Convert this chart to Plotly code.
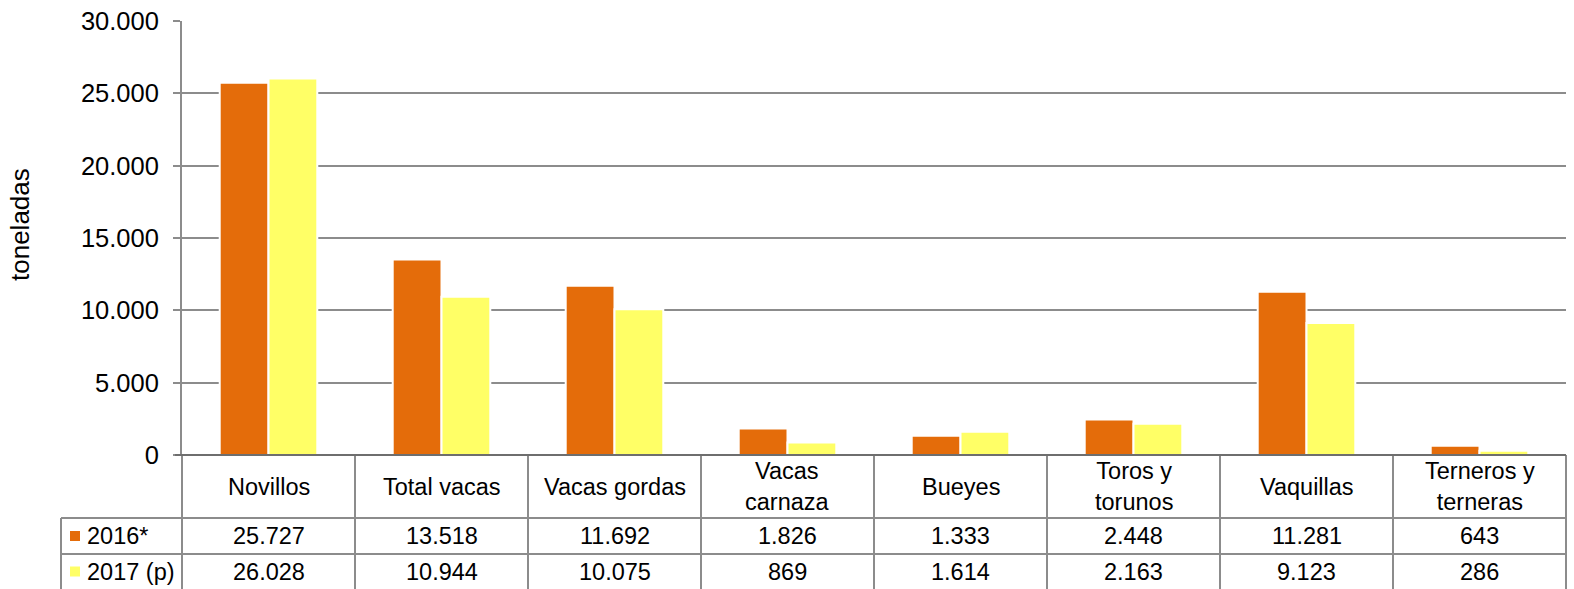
import plotly.graph_objects as go

# Datos
categorias = ["Novillos", "Total vacas", "Vacas gordas", "Vacas<br>carnaza", "Bueyes",
              "Toros y<br>torunos", "Vaquillas", "Terneros y<br>terneras"]
serie_2016 = [25727, 13518, 11692, 1826, 1333, 2448, 11281, 643]
serie_2017 = [26028, 10944, 10075, 869, 1614, 2163, 9123, 286]
nombres = ["2016*", "2017 (p)"]
colores = ["#E46C0A", "#FFFF66"]

W, H = 1574, 589
L, R, T, B = 182, 8, 21, 134
pw, ph = W - L - R, H - T - B


def px_x(px):
    return (px - L) / pw


def px_y(py):
    return (H - B - py) / ph


fuente = "Arial, Liberation Sans, sans-serif"
gris = "#8c8c8c"
n = len(categorias)

fig = go.Figure()
for nombre, valores, color in zip(nombres, [serie_2016, serie_2017], colores):
    fig.add_trace(go.Bar(
        x=list(range(n)), y=valores, name=nombre,
        marker=dict(color=color, line=dict(color="white", width=2)),
    ))

# Tabla de datos bajo el eje
shapes = []
y_hdr = px_y(518)
y_r1 = px_y(554)
y_bot = px_y(589)
for i in range(n + 1):
    xp = i / n
    shapes.append(dict(type="line", xref="paper", yref="paper", x0=xp, x1=xp,
                       y0=0, y1=y_bot, line=dict(color=gris, width=2)))
x_leg = px_x(61)
shapes.append(dict(type="line", xref="paper", yref="paper", x0=x_leg, x1=x_leg,
                   y0=y_hdr, y1=y_bot, line=dict(color=gris, width=2)))
for yy in (y_hdr, y_r1):
    shapes.append(dict(type="line", xref="paper", yref="paper", x0=x_leg, x1=1,
                       y0=yy, y1=yy, line=dict(color=gris, width=2)))
# eje x
shapes.append(dict(type="line", xref="paper", yref="paper", x0=px_x(175), x1=1,
                   y0=0, y1=0, line=dict(color="#6e6e6e", width=2)))

annotations = []
row_y = [px_y(536), px_y(571.5)]
for i, cat in enumerate(categorias):
    annotations.append(dict(x=i, xref="x", y=px_y(486.5), yref="paper", text=cat,
                            showarrow=False, font=dict(size=23.5, color="black", family=fuente),
                            xanchor="center", yanchor="middle"))
    for r, valores in enumerate([serie_2016, serie_2017]):
        annotations.append(dict(x=i, xref="x", y=row_y[r], yref="paper",
                                text=f"{valores[i]:,}".replace(",", "."),
                                showarrow=False, font=dict(size=23.5, color="black", family=fuente),
                                xanchor="center", yanchor="middle"))

for r, (nombre, color) in enumerate(zip(nombres, colores)):
    cy = [536, 571.5][r]
    shapes.append(dict(type="rect", xref="paper", yref="paper",
                       x0=px_x(70), x1=px_x(80), y0=px_y(cy + 5), y1=px_y(cy - 5),
                       fillcolor=color, line=dict(width=0)))
    annotations.append(dict(x=px_x(85), xref="paper", y=row_y[r], yref="paper", text=nombre,
                            showarrow=False, font=dict(size=23.5, color="black", family=fuente),
                            xanchor="left", yanchor="middle"))

annotations.append(dict(x=px_x(20), xref="paper", y=px_y(225), yref="paper", text="toneladas",
                        textangle=-90, showarrow=False,
                        font=dict(size=26, color="black", family=fuente),
                        xanchor="center", yanchor="middle"))

fig.update_layout(
    width=W, height=H,
    margin=dict(l=L, r=R, t=T, b=B),
    paper_bgcolor="white", plot_bgcolor="white",
    barmode="group", bargap=0.436, bargroupgap=0,
    showlegend=False,
    separators=",.",
    font=dict(family=fuente, color="black"),
    shapes=shapes,
    annotations=annotations,
    xaxis=dict(range=[-0.5, n - 0.5], showticklabels=False, showgrid=False,
               zeroline=False, showline=False, ticks=""),
    yaxis=dict(range=[0, 30000], dtick=5000, tickformat=",d",
               showgrid=True, gridcolor=gris, gridwidth=2,
               zeroline=False, showline=True, linecolor=gris, linewidth=2,
               ticks="outside", ticklen=7, tickcolor=gris, tickwidth=2,
               tickfont=dict(size=25.5, color="black", family=fuente),
               ticklabelstandoff=9),
)

fig.write_html("out.html", config={"displayModeBar": False},
               post_script="document.body.style.margin='0';")
